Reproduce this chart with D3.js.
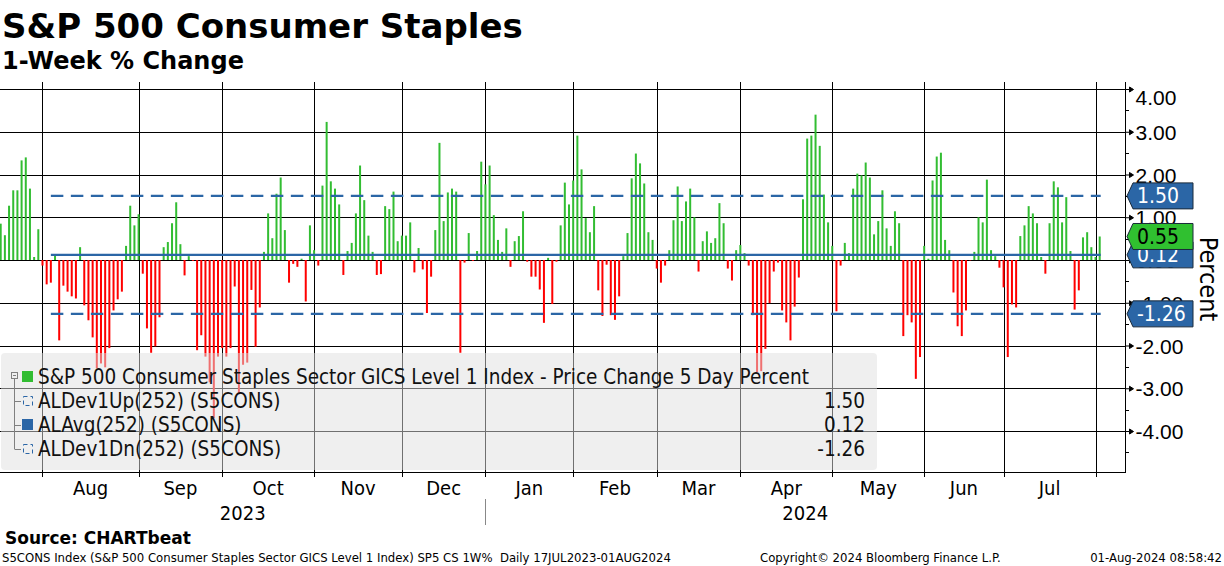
<!DOCTYPE html>
<html>
<head>
<meta charset="utf-8">
<script src="https://cdn.jsdelivr.net/npm/d3@7"></script>
<style>
html, body { margin: 0; padding: 0; background: #fff; }
svg { display: block; font-family: "DejaVu Sans Condensed", "DejaVu Sans", sans-serif; font-stretch: condensed; }
.wide { font-family: "DejaVu Sans", sans-serif; font-stretch: normal; }
</style>
</head>
<body>
<div id="chart"></div>
<script>
// Valores semanales (% cambio 5 dias), un array por mes de negociacion
const jul23 = [0.85, 0.58, 1.27, 1.63, 1.63, 2.33, 2.40, 1.67, 0.07, 0.72, -0.13]
const aug23 = [-0.57, -0.53, 0.12, -1.88, -0.60, -0.74, -0.85, -0.90, 0.30, -1.06, -1.41, -1.81, -2.53, -2.42, -2.51, -2.06, -1.18, -0.92, -0.74, 0.33, 1.27, 0.81, 1.07]
const sep23 = [-0.32, -1.60, -2.17, -2.02, -1.34, 0.30, 0.42, 0.86, 1.35, 0.37, -0.36, 0.09, -0.02, -2.11, -1.76, -2.26, -2.86, -3.70, -2.26, -2.06]
const oct23 = [-2.26, -2.06, -0.62, -3.14, -2.45, -2.40, -0.70, -2.03, -1.11, 0.19, 1.09, 0.51, 1.55, 1.93, 0.70, -0.53, -0.09, -0.16, 0.03, -0.97, 0.81, 0.23]
const nov23 = [-0.13, 1.74, 3.23, 1.84, 1.67, 1.30, -0.35, 0.21, 0.40, 1.09, 2.21, 1.40, 0.57, 0.19, -0.35, -0.33, 1.26, 1.19, 1.60, 0.44, 0.57]
const dec23 = [0.57, 0.88, -0.29, 0.28, -0.22, -1.24, -0.39, 0.70, 2.74, 0.91, 1.58, 1.67, 1.60, -2.17, -0.06, 0.63, -0.02, 0.21, 2.30, 1.77]
const jan24 = [2.21, 1.05, 0.47, 0.19, 0.74, -0.16, 0.44, 0.56, 1.14, -0.04, -0.39, -0.39, -0.69, -1.47, 0.05, -1.03, -0.04, 0.81, 1.81, 1.30, 1.86]
const feb24 = [2.91, 2.12, 0.98, 0.65, 1.26, -0.71, -1.31, -0.11, -1.29, -1.40, -0.85, 0.09, 0.63, 1.91, 2.49, 2.26, 1.79, 0.65, 0.47, -0.20]
const mar24 = [-0.53, -0.13, 0.23, 0.93, 1.72, 0.91, 1.37, 1.67, 1.00, -0.27, 0.44, 0.67, 0.40, 0.51, 1.33, 0.86, -0.20, -0.48, 0.23, 0.35]
const apr24 = [0.16, -0.13, -1.29, -2.63, -2.60, -2.08, -1.01, -0.27, -0.06, -1.18, -1.46, -1.88, -1.09, -0.41, 1.42, 2.84, 2.91, 3.40, 2.67, 1.53, 0.88, 0.33]
const may24 = [-1.20, -0.13, 0.40, 0.16, 1.67, 2.02, 1.98, 2.28, 1.93, 0.60, 0.91, 1.63, 0.74, 0.33, 1.14, 0.86, -1.78, -1.29, -1.46, -2.78, -2.27, 0.33]
const jun24 = [0.03, 1.86, 2.42, 2.51, 0.47, 0.23, -0.76, -1.55, -1.78, -1.18, -0.01, 0.19, 1.00, 0.88, 1.88, 0.23, 0.09, -0.18, -0.64]
const jul24 = [-2.27, -1.04, -1.11, 0.56, 0.81, 1.26, 1.09, 0.86, 0.07, -0.32, 0.86, 1.84, 1.70, 0.88, 1.47, 0.21, -1.16, -0.71, 0.53, 0.65, 0.30, 0.07]
const aug24 = [0.55]

const monthValues = [jul23, aug23, sep23, oct23, nov23, dec23, jan24, feb24, mar24, apr24, may24, jun24, jul24, aug24]
const monthLabels = ["Jul", "Aug", "Sep", "Oct", "Nov", "Dec", "Jan", "Feb", "Mar", "Apr", "May", "Jun", "Jul", "Aug"]
const yearLabels = ["2023", "2024"]

// Lineas de referencia (ALDev / ALAvg)
const levelNames = ["ALDev1Up(252) (S5CONS)", "ALAvg(252) (S5CONS)", "ALDev1Dn(252) (S5CONS)"]
const levelValues = [1.50, 0.12, -1.26]
const levelStartIndex = 12

const yTicks = [-4, -3, -2, -1, 0, 1, 2, 3, 4]
const yMinorTicks = [-4.5, -3.5, -2.5, -1.5, -0.5, 0.5, 1.5, 2.5, 3.5]

const seriesName = "S&P 500 Consumer Staples Sector GICS Level 1 Index - Price Change 5 Day Percent"

// ----------------------------------------------------------

const width = 1224
const height = 566
const plot = { left: 0, right: 1125, top: 82, bottom: 472 }
const green = "#32bd32", red = "#ff0000", blue = "#2b66a6"

// Aplanamos los meses en una sola serie indexada
const data = []
const monthEnds = []
monthValues.forEach((arr, m) => {
    arr.forEach(v => data.push({ i: data.length, m: m, v: v }))
    monthEnds.push(data.length - 1)
})
const n = data.length

const svg = d3.select("#chart").append("svg").attr("width", width).attr("height", height)

const x = d3.scaleLinear().domain([0, n - 1]).range([0.7, 1099.7])
const y = d3.scaleLinear().domain([-4, 4]).range([431, 89])
const crisp = v => Math.round(v) + 0.5

// Rejilla
const grid = svg.append("g").attr("id", "grid")
grid.selectAll("line.h").data(yTicks).enter().append("line")
    .attr("x1", plot.left).attr("x2", plot.right)
    .attr("y1", d => crisp(y(d))).attr("y2", d => crisp(y(d)))
    .attr("stroke", "#000").attr("stroke-width", 1)
const gridMonths = monthEnds.slice(0, monthEnds.length - 1)
grid.selectAll("line.v").data(gridMonths).enter().append("line")
    .attr("x1", d => crisp(x(d))).attr("x2", d => crisp(x(d)))
    .attr("y1", plot.top).attr("y2", plot.bottom)
    .attr("stroke", "#000").attr("stroke-width", 1)

// Barras
svg.append("g").attr("id", "bars").selectAll("rect").data(data).enter().append("rect")
    .attr("x", d => x(d.i) - 1)
    .attr("width", 2)
    .attr("y", d => Math.min(y(0), y(d.v)))
    .attr("height", d => Math.abs(y(d.v) - y(0)))
    .attr("fill", d => d.v >= 0 ? green : red)

// Lineas de nivel
svg.append("g").attr("id", "levels").selectAll("line").data(levelValues).enter().append("line")
    .attr("x1", x(levelStartIndex)).attr("x2", x(n - 1) + 1)
    .attr("y1", d => y(d)).attr("y2", d => y(d))
    .attr("stroke", blue).attr("stroke-width", 2.2)
    .attr("stroke-dasharray", (d, k) => k === 1 ? null : "12.5,7.5")

// Leyenda
const legend = svg.append("g").attr("id", "legend")
legend.append("rect").attr("x", 1).attr("y", 353).attr("width", 876).attr("height", 117).attr("rx", 4)
    .attr("fill", "#e0e0e0").attr("opacity", 0.5)
const rowY = [377, 401, 425, 449]
legend.append("rect").attr("x", 11.5).attr("y", 372.5).attr("width", 6).attr("height", 6)
    .attr("fill", "none").attr("stroke", "#808080")
legend.append("line").attr("x1", 13).attr("x2", 16).attr("y1", 375.5).attr("y2", 375.5).attr("stroke", "#808080")
legend.append("line").attr("x1", 14.5).attr("x2", 14.5).attr("y1", 379).attr("y2", rowY[3]).attr("stroke", "#808080")
rowY.slice(1).forEach(r => {
    legend.append("line").attr("x1", 14.5).attr("x2", 21).attr("y1", r + 0.5).attr("y2", r + 0.5).attr("stroke", "#808080")
})
legend.append("rect").attr("x", 22).attr("y", rowY[0] - 6).attr("width", 11).attr("height", 11).attr("fill", green)
legend.append("rect").attr("x", 22).attr("y", rowY[2] - 6).attr("width", 11).attr("height", 11).attr("fill", blue)
;[rowY[1], rowY[3]].forEach(r => {
    legend.append("rect").attr("x", 23.5).attr("y", r - 4.5).attr("width", 9).attr("height", 9)
        .attr("fill", "none").attr("stroke", blue).attr("stroke-width", 1).attr("stroke-dasharray", "4,3")
})
const legendNames = [seriesName].concat(levelNames)
legend.selectAll("text.name").data(legendNames).enter().append("text")
    .attr("x", 38).attr("y", (d, k) => rowY[k] + 7)
    .attr("font-size", 20.5).attr("fill", "#111")
    .text(d => d)
legend.selectAll("text.val").data(levelValues).enter().append("text")
    .attr("x", 865).attr("y", (d, k) => rowY[k + 1] + 7)
    .attr("text-anchor", "end").attr("font-size", 20.5).attr("fill", "#111")
    .text(d => d.toFixed(2))

// Eje Y (derecha)
const yAxis = d3.axisRight(y).tickValues(yTicks).tickSize(0).tickPadding(10).tickFormat(d => d.toFixed(2))
const groupY = svg.append("g").attr("id", "groupY").attr("transform", `translate(${plot.right + 0.5},0)`).call(yAxis)
groupY.select(".domain").remove()
groupY.selectAll(".tick text").attr("font-size", 21).attr("fill", "#000").attr("dy", null)
    .attr("y", d => Math.max(0, plot.top + 14.5 - y(d)) + 7.5)
groupY.selectAll(".tick").append("path")
    .attr("d", "M0,0H4L4,-2.5L8,0L4,2.5L4,0").attr("fill", "#000").attr("stroke", "#000").attr("stroke-width", 1)
svg.append("line").attr("x1", plot.right + 0.5).attr("x2", plot.right + 0.5)
    .attr("y1", plot.top).attr("y2", plot.bottom).attr("stroke", "#000")
svg.append("g").selectAll("line").data(yMinorTicks).enter().append("line")
    .attr("x1", plot.right).attr("x2", plot.right + 4)
    .attr("y1", d => crisp(y(d))).attr("y2", d => crisp(y(d))).attr("stroke", "#000")

// Eje X (abajo)
svg.append("line").attr("x1", plot.left).attr("x2", plot.right + 1)
    .attr("y1", plot.bottom + 0.5).attr("y2", plot.bottom + 0.5).attr("stroke", "#000")
svg.append("g").selectAll("line").data(gridMonths).enter().append("line")
    .attr("x1", d => crisp(x(d))).attr("x2", d => crisp(x(d)))
    .attr("y1", plot.bottom).attr("y2", plot.bottom + 5).attr("stroke", "#000")
const monthIdx = d3.range(1, monthLabels.length - 1)
svg.append("g").selectAll("text").data(monthIdx).enter().append("text")
    .attr("x", m => (x(monthEnds[m - 1]) + x(monthEnds[m])) / 2)
    .attr("y", 495).attr("text-anchor", "middle").attr("font-size", 20)
    .text(m => monthLabels[m])
const yearSplit = x(monthEnds[5])
const yearCenters = [(plot.left + yearSplit) / 2, (yearSplit + plot.right) / 2]
svg.append("g").selectAll("text").data(yearLabels).enter().append("text")
    .attr("x", (d, k) => yearCenters[k]).attr("y", 520)
    .attr("text-anchor", "middle").attr("font-size", 20)
    .text(d => d)
svg.append("line").attr("x1", crisp(yearSplit)).attr("x2", crisp(yearSplit))
    .attr("y1", 499).attr("y2", 525).attr("stroke", "#888")

// Etiquetas de valor a la derecha
const tags = [
    { v: levelValues[1], fill: blue, color: "#fff" },
    { v: data[n - 1].v, fill: "#30c030", color: "#000" },
    { v: levelValues[0], fill: blue, color: "#fff" },
    { v: levelValues[2], fill: blue, color: "#fff" }
]
const tagGroup = svg.append("g").attr("id", "tags")
tags.forEach(t => {
    const cy = y(t.v)
    const g = tagGroup.append("g").attr("transform", `translate(0,${cy})`)
    g.append("path")
        .attr("d", "M1127,0L1133,-13H1193V13H1133Z")
        .attr("fill", t.fill).attr("stroke", "#1a2a3a").attr("stroke-width", 1)
    g.append("text").attr("x", 1137).attr("y", 7.5).attr("font-size", 21).attr("fill", t.color)
        .text(t.v.toFixed(2))
})
svg.append("text").attr("transform", "translate(1200,279) rotate(90)")
    .attr("text-anchor", "middle").attr("font-size", 25).text("Percent")

// Titulos y pie
svg.append("text").attr("class", "wide").attr("x", 2).attr("y", 38).attr("font-size", 34).attr("font-weight", "bold")
    .text("S&P 500 Consumer Staples")
svg.append("text").attr("class", "wide").attr("x", 2).attr("y", 69).attr("font-size", 24).attr("font-weight", "bold")
    .text("1-Week % Change")
svg.append("text").attr("class", "wide").attr("x", 5).attr("y", 544).attr("font-size", 17).attr("font-weight", "bold")
    .text("Source: CHARTbeat")
svg.append("text").attr("x", 2).attr("y", 562).attr("font-size", 13).style("white-space", "pre")
    .text("S5CONS Index (S&P 500 Consumer Staples Sector GICS Level 1 Index) SP5 CS 1W%  Daily 17JUL2023-01AUG2024")
svg.append("text").attr("x", 760).attr("y", 562).attr("font-size", 13)
    .text("Copyright\u00a9 2024 Bloomberg Finance L.P.")
svg.append("text").attr("x", 1222).attr("y", 562).attr("font-size", 13).attr("text-anchor", "end")
    .text("01-Aug-2024 08:58:42")
</script>
</body>
</html>
